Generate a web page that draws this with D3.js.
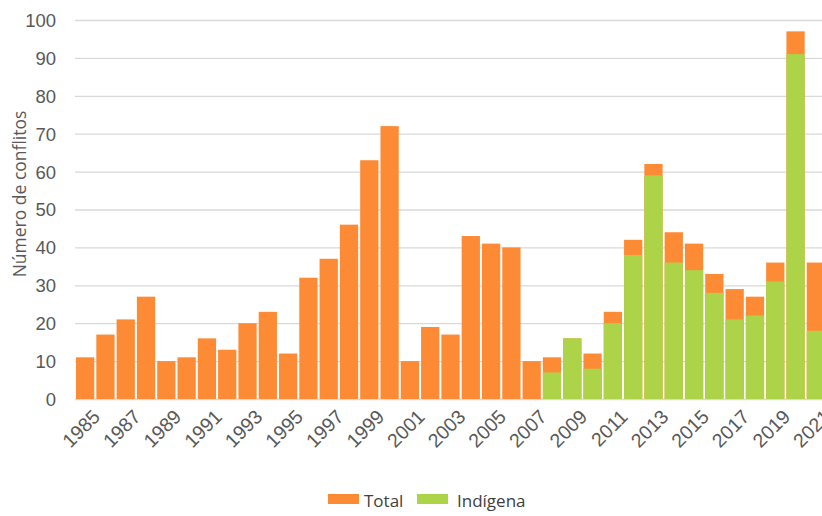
<!DOCTYPE html>
<html>
<head>
<meta charset="utf-8">
<script src="https://cdn.jsdelivr.net/npm/d3@7"></script>
<style>
  body { margin: 0; background: #fff; }
  svg { display: block; font-family: "Open Sans", "Noto Sans", sans-serif; }
</style>
</head>
<body>
<svg id="chart" width="822" height="516"></svg>
<script>
// data
const years = d3.range(1985, 2022).map(String);
const total = [11, 17, 21, 27, 10, 11, 16, 13, 20, 23, 12, 32, 37, 46, 63, 72, 10, 19, 17, 43, 41, 40, 10,
               11, 16, 12, 23, 42, 62, 44, 41, 33, 29, 27, 36, 97, 36];
const indigena = [null, null, null, null, null, null, null, null, null, null, null, null, null, null, null, null, null, null, null, null, null, null, null,
               7, 16, 8, 20, 38, 59, 36, 34, 28, 21, 22, 31, 91, 18];
const yTicks = [0, 10, 20, 30, 40, 50, 60, 70, 80, 90, 100];
const seriesNames = ['Total', 'Indígena'];
const colors = ['#fd8b36', '#add448'];

const svg = d3.select('#chart');
const margin = { left: 75, top: 20, bottom: 117 };
const plotRight = 826;
const height = 516;

const x = d3.scaleBand().domain(years).range([margin.left, plotRight]).paddingInner(0.1).paddingOuter(0.05);
const y = d3.scaleLinear().domain([0, 100]).range([height - margin.bottom, margin.top]);

// gridlines
svg.append('g')
  .selectAll('line')
  .data(yTicks)
  .join('line')
  .attr('x1', margin.left)
  .attr('x2', plotRight)
  .attr('y1', d => y(d) + 0.5)
  .attr('y2', d => y(d) + 0.5)
  .attr('stroke', '#d9d9d9')
  .attr('stroke-width', 1.3);

// y axis labels
const yAxis = svg.append('g')
  .attr('transform', `translate(${margin.left - 19},0)`)
  .call(d3.axisLeft(y).tickValues(yTicks).tickSize(0).tickPadding(0));
yAxis.select('.domain').remove();
yAxis.selectAll('text')
  .attr('fill', '#595959')
  .style('font-size', '18.5px')
  .attr('dy', '0.35em');

// total bars
svg.append('g')
  .selectAll('rect')
  .data(years)
  .join('rect')
  .attr('x', (d) => x(d))
  .attr('width', x.bandwidth())
  .attr('y', (d, i) => y(total[i]))
  .attr('height', (d, i) => y(0) - y(total[i]))
  .attr('fill', colors[0]);

// indigena bars
svg.append('g')
  .selectAll('rect')
  .data(years.filter((d, i) => indigena[i] != null))
  .join('rect')
  .attr('x', d => x(d))
  .attr('width', x.bandwidth())
  .attr('y', d => y(indigena[years.indexOf(d)]))
  .attr('height', d => y(0) - y(indigena[years.indexOf(d)]))
  .attr('fill', colors[1]);

// x axis labels (every other year)
const xAxis = svg.append('g')
  .attr('transform', `translate(0,${y(0)})`)
  .call(d3.axisBottom(x).tickValues(years.filter((d, i) => i % 2 === 0)).tickSize(0).tickPadding(0));
xAxis.select('.domain').remove();
xAxis.selectAll('text')
  .attr('fill', '#595959')
  .style('font-size', '19.5px')
  .attr('text-anchor', 'end')
  .attr('dy', null)
  .attr('y', 0)
  .attr('transform', `translate(${x.bandwidth() / 2 + 7},${19}) rotate(-45)`);

// y axis title
svg.append('text')
  .attr('transform', `translate(26,${194}) rotate(-90)`)
  .attr('text-anchor', 'middle')
  .attr('fill', '#595959')
  .style('font-size', '17.5px')
  .text('Número de conflitos');

// legend
const legend = svg.append('g').attr('transform', 'translate(328,494)');
const legendX = [0, 89];
seriesNames.forEach((name, i) => {
  const g = legend.append('g').attr('transform', `translate(${legendX[i]},0)`);
  g.append('rect').attr('width', 31).attr('height', 10).attr('fill', colors[i]);
  g.append('text')
    .attr('x', i === 0 ? 36 : 40)
    .attr('y', 10)
    .attr('dy', '0.2em')
    .attr('fill', '#404040')
    .style('font-size', '17px')
    .text(name);
});
</script>
</body>
</html>
